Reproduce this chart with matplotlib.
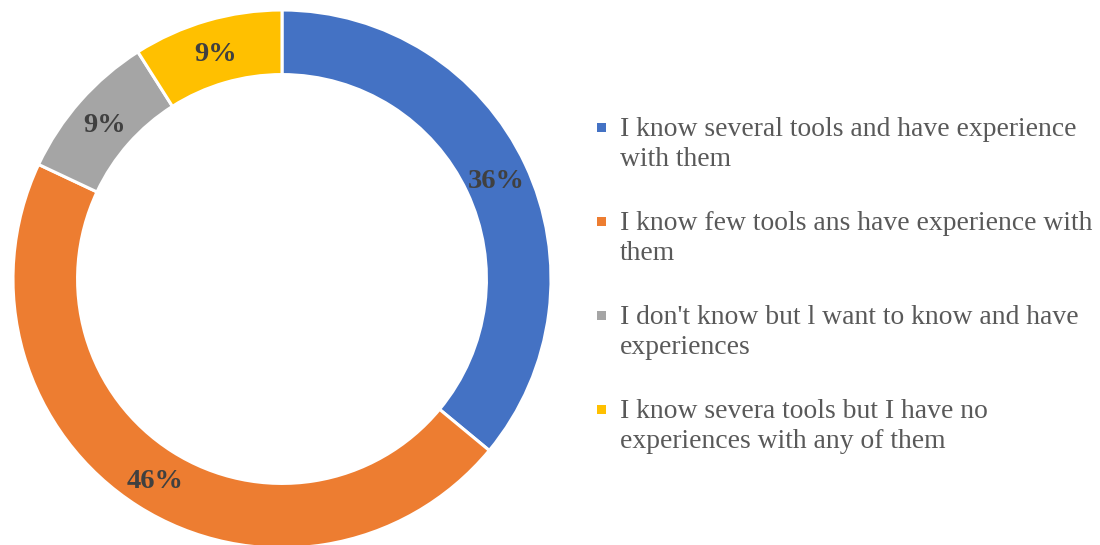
import matplotlib
matplotlib.use("Agg")
import matplotlib.pyplot as plt
from matplotlib.patches import Rectangle
import numpy as np

categories = [
    "I know several tools and have experience\nwith them",
    "I know few tools ans have experience with\nthem",
    "I don't know but l want to know and have\nexperiences",
    "I know severa tools but I have no\nexperiences with any of them",
]
shares = [36, 46, 9, 9]
colors = ["#4472C4", "#ED7D31", "#A5A5A5", "#FFC000"]

plt.rcParams["font.family"] = ["Liberation Serif", "DejaVu Serif"]

W, H = 1100, 545
fig = plt.figure(figsize=(W / 100, H / 100), dpi=100)
fig.patch.set_facecolor("white")

# donut: centre (282, 279) px from top-left, outer radius 269 px
cx, cy, R = 282, 279, 269
ax = fig.add_axes([(cx - R) / W, (H - cy - R) / H, 2 * R / W, 2 * R / H])
ring = 0.24
wedges, _ = ax.pie(
    shares,
    colors=colors,
    startangle=90,
    counterclock=False,
    radius=1.0,
    wedgeprops=dict(width=ring, edgecolor="white", linewidth=2.2),
)
ax.set_xlim(-1, 1)
ax.set_ylim(-1, 1)
ax.set_aspect("equal")
ax.axis("off")

# percentage labels in the middle of the ring
total = sum(shares)
start = 90.0
r_lab = 1 - ring / 2
for v in shares:
    mid = start - 360.0 * v / total / 2
    start -= 360.0 * v / total
    ang = np.deg2rad(mid)
    ax.text(r_lab * np.cos(ang), r_lab * np.sin(ang), f"{v}%",
            ha="center", va="center_baseline", fontsize=20.5, fontweight="bold",
            color="#404040")

# legend on the right
x_box, x_txt = 597, 620
y0, step = 127, 94
for i, (lab, c) in enumerate(zip(categories, colors)):
    yc = y0 + i * step
    fig.patches.append(Rectangle(((x_box) / W, (H - yc - 5) / H), 9 / W, 9 / H,
                                 transform=fig.transFigure, facecolor=c,
                                 edgecolor="none"))
    for j, line in enumerate(lab.split("\n")):
        fig.text(x_txt / W, (H - (yc + j * 30)) / H, line, ha="left",
                 va="center_baseline", fontsize=19.9, color="#595959")

fig.savefig("out.png", dpi=100, facecolor="white")
